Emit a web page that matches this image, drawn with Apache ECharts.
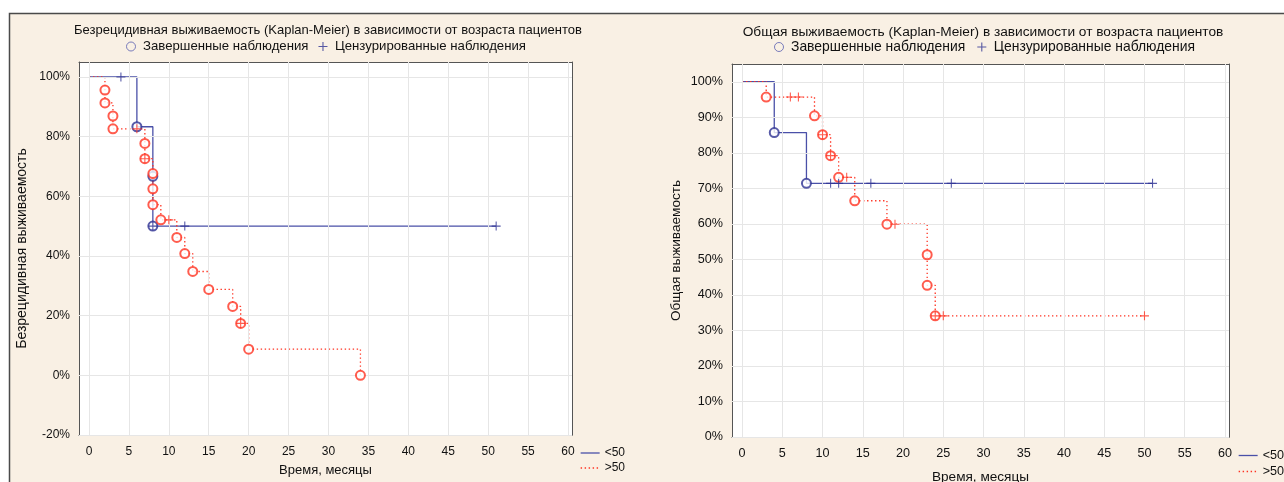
<!DOCTYPE html>
<html><head><meta charset="utf-8">
<script src="https://cdn.jsdelivr.net/npm/echarts@6/dist/echarts.min.js"></script>
<style>html,body{margin:0;padding:0;background:#fff}#c{width:1284px;height:482px}</style>
</head><body><div id="c"></div>
<script>
// ---------- DATA ----------
const xTicks = [0,5,10,15,20,25,30,35,40,45,50,55,60];
const yTicksRFS = [-20,0,20,40,60,80,100];
const yTicksOS = [0,10,20,30,40,50,60,70,80,90,100];

// RFS (left) – <50
const rfsYoungStepT = [0,6,8,51];
const rfsYoungStepS = [100,83.3,50,50];
const rfsYoungEventT = [6,8,8];
const rfsYoungEventS = [83.3,66.7,50];
const rfsYoungCensT = [4,8,12,51];
const rfsYoungCensS = [100,50,50,50];
// RFS (left) – >50
const rfsOldStepT = [0,2,3,7,8,9,11,12,13,15,18,19,20,34];
const rfsOldStepS = [100,91.3,82.6,72.6,57.2,52.1,46.2,40.8,34.8,28.8,23.1,17.4,8.75,0];
const rfsOldEventT = [2,2,3,3,7,7,8,8,8,9,11,12,13,15,18,19,20,34];
const rfsOldEventS = [95.6,91.3,86.9,82.6,77.7,72.6,67.6,62.5,57.2,52.1,46.2,40.8,34.8,28.8,23.1,17.4,8.75,0];
const rfsOldCensT = [6,7,10,19];
const rfsOldCensS = [82.6,72.6,52.1,17.4];

// OS (right) – <50
const osYoungStepT = [0,4,8,51];
const osYoungStepS = [100,85.7,71.4,71.4];
const osYoungEventT = [4,8];
const osYoungEventS = [85.7,71.4];
const osYoungCensT = [11,12,16,26,51];
const osYoungCensS = [71.4,71.4,71.4,71.4,71.4];
// OS (right) – >50
const osOldStepT = [0,3,9,10,11,12,14,18,23,24,50];
const osOldStepS = [100,95.7,90.4,85.1,79.2,73.1,66.5,59.9,42.7,34.1,34.1];
const osOldEventT = [3,9,10,11,12,14,18,23,23,24];
const osOldEventS = [95.7,90.4,85.1,79.2,73.1,66.5,59.9,51.3,42.7,34.1];
const osOldCensT = [6,7,10,11,13,19,24,25,50];
const osOldCensS = [95.7,95.7,85.1,79.2,73.1,59.9,34.1,34.1,34.1];

const titles = ['Безрецидивная выживаемость (Kaplan-Meier) в зависимости от возраста пациентов',
                'Общая выживаемость (Kaplan-Meier) в зависимости от возраста пациентов'];
const yNames = ['Безрецидивная выживаемость','Общая выживаемость'];
const xName = 'Время, месяцы';
const nameEvent = 'Завершенные наблюдения';
const nameCens = 'Цензурированные наблюдения';
const groupNames = ['<50','>50'];

// ---------- STYLE ----------
const FONT = '"Liberation Sans", Arial, sans-serif';
const BLUE_LINE = '#4a50a8';
const BLUE_MARK = '#2d3192';
const RED = '#ff3322';
const AX = '#555';
const PLUS = 'path://M4.4,0H5.6V4.4H10V5.6H5.6V10H4.4V5.6H0V4.4H4.4Z';
const zip = (a,b) => a.map((v,i)=>[v,b[i]]);

const grids = [
  {left:79, top:62, width:493, height:373},
  {left:732, top:64, width:497, height:373}
];
const L = [ // per-panel text layout
  {titleX:323, titleTop:19, titleSize:13, legLeft:126, legGap:10, legSize:13.2,
   labSize:12, xMargin:11, xNameGap:29, xNameSize:13, yNameGap:50, yNameSize:14, yMargin:9,
   botLeft:580, botTop:447},
  {titleX:978, titleTop:20, titleSize:13.7, legLeft:774, legGap:12, legSize:13.9,
   labSize:12.6, xMargin:10, xNameGap:33, xNameSize:13.6, yNameGap:49, yNameSize:13.6, yMargin:9,
   botLeft:1238, botTop:449}
];
const yRanges = [[-20,105],[0,105]];
const yTicksArr = [yTicksRFS, yTicksOS];
const sets = [
  {yStep:[rfsYoungStepT,rfsYoungStepS], oStep:[rfsOldStepT,rfsOldStepS],
   yEv:[rfsYoungEventT,rfsYoungEventS], oEv:[rfsOldEventT,rfsOldEventS],
   yC:[rfsYoungCensT,rfsYoungCensS], oC:[rfsOldCensT,rfsOldCensS]},
  {yStep:[osYoungStepT,osYoungStepS], oStep:[osOldStepT,osOldStepS],
   yEv:[osYoungEventT,osYoungEventS], oEv:[osOldEventT,osOldEventS],
   yC:[osYoungCensT,osYoungCensS], oC:[osOldCensT,osOldCensS]}
];

const xAxis = [], yAxis = [], series = [], title = [], legend = [];
grids.forEach((g, gi) => {
  const l = L[gi];
  title.push({text: titles[gi], left: l.titleX, top: l.titleTop, textAlign: 'center',
    textStyle:{fontFamily:FONT, fontSize:l.titleSize, fontWeight:'normal', color:'#111'}});
  const tick = {show:true, inside:true, length:4, customValues:xTicks, lineStyle:{color:'#333'}};
  xAxis.push({type:'value', gridIndex:gi, min:-1.25, max:60.5, position:'bottom',
    axisLine:{show:true, onZero:false, lineStyle:{color:AX, width:1}},
    axisTick:tick,
    axisLabel:{customValues:xTicks, margin:l.xMargin, fontFamily:FONT, fontSize:l.labSize, color:'#111'},
    splitLine:{show:false},
    name:xName, nameLocation:'middle', nameGap:l.xNameGap,
    nameTextStyle:{fontFamily:FONT, fontSize:l.xNameSize, color:'#111'}});
  xAxis.push({type:'value', gridIndex:gi, min:-1.25, max:60.5, position:'top',
    axisLine:{show:true, onZero:false, lineStyle:{color:AX, width:1}},
    axisTick:tick, axisLabel:{show:false}, splitLine:{show:false}});
  const yt = yTicksArr[gi];
  const ytick = {show:true, inside:true, length:4, customValues:yt, lineStyle:{color:'#333'}};
  yAxis.push({type:'value', gridIndex:gi, min:yRanges[gi][0], max:yRanges[gi][1], position:'left',
    axisLine:{show:true, onZero:false, lineStyle:{color:AX, width:1}},
    axisTick:ytick,
    axisLabel:{customValues:yt, formatter:'{value}%', margin:l.yMargin, fontFamily:FONT, fontSize:l.labSize, color:'#111'},
    splitLine:{show:false},
    name:yNames[gi], nameLocation:'middle', nameGap:l.yNameGap,
    nameTextStyle:{fontFamily:FONT, fontSize:l.yNameSize, color:'#111'}});
  yAxis.push({type:'value', gridIndex:gi, min:yRanges[gi][0], max:yRanges[gi][1], position:'right',
    axisLine:{show:true, onZero:false, lineStyle:{color:AX, width:1}},
    axisTick:ytick, axisLabel:{show:false}, splitLine:{show:false}});

  const xi = gi*2, yi = gi*2;
  const s = sets[gi];
  series.push({type:'line', name:'grid', xAxisIndex:xi, yAxisIndex:yi, data:[], silent:true, z:1,
    markLine:{silent:true, symbol:'none', animation:false, label:{show:false},
      lineStyle:{color:'#e6e6e6', type:'solid', width:1},
      data: xTicks.map(v=>({xAxis:v})).concat(yt.map(v=>({yAxis:v})))}});
  series.push({type:'line', name:groupNames[0], xAxisIndex:xi, yAxisIndex:yi, step:'end', symbol:'none',
    data:zip(s.yStep[0], s.yStep[1]), lineStyle:{color:BLUE_LINE, width:1.3}, itemStyle:{color:BLUE_LINE}, z:3});
  series.push({type:'line', name:groupNames[1], xAxisIndex:xi, yAxisIndex:yi, step:'end', symbol:'none',
    data:zip(s.oStep[0], s.oStep[1]), lineStyle:{color:RED, width:1.3, type:[1.4,2.6]}, itemStyle:{color:RED}, z:4});
  series.push({type:'scatter', name:nameEvent, xAxisIndex:xi, yAxisIndex:yi, symbol:'emptyCircle', symbolSize:9,
    data:zip(s.yEv[0], s.yEv[1]), itemStyle:{color:BLUE_MARK, borderWidth:1.1}, z:5});
  series.push({type:'scatter', name:nameEvent, xAxisIndex:xi, yAxisIndex:yi, symbol:'emptyCircle', symbolSize:9,
    data:zip(s.oEv[0], s.oEv[1]), itemStyle:{color:RED, borderWidth:1.1}, z:5});
  series.push({type:'scatter', name:nameCens, xAxisIndex:xi, yAxisIndex:yi, symbol:PLUS, symbolSize:9,
    data:zip(s.yC[0], s.yC[1]), itemStyle:{color:BLUE_MARK}, z:6});
  series.push({type:'scatter', name:nameCens, xAxisIndex:xi, yAxisIndex:yi, symbol:PLUS, symbolSize:9,
    data:zip(s.oC[0], s.oC[1]), itemStyle:{color:RED}, z:6});

  legend.push({left:l.legLeft, top:40, padding:0, itemWidth:14, itemHeight:9, itemGap:l.legGap, selectedMode:false,
    textStyle:{fontFamily:FONT, fontSize:l.legSize, color:'#111'},
    data:[{name:nameEvent, icon:'circle', itemStyle:{color:'transparent', borderColor:'#5a5fb0', borderWidth:1}},
          {name:nameCens, icon:PLUS, itemStyle:{color:BLUE_MARK}}]});
  legend.push({left:l.botLeft, top:l.botTop, padding:0, orient:'vertical', itemWidth:19, itemHeight:8, itemGap:3,
    selectedMode:false, textStyle:{fontFamily:FONT, fontSize:l.labSize, color:'#111'},
    data:[{name:groupNames[0], itemStyle:{opacity:0}, lineStyle:{color:BLUE_LINE, width:1.3}},
          {name:groupNames[1], itemStyle:{opacity:0}, lineStyle:{color:RED, width:1.3, type:[1.4,2.6]}}]});
});

const chart = echarts.init(document.getElementById('c'), null, {renderer:'canvas'});
chart.setOption({
  backgroundColor:'#ffffff',
  animation:false,
  graphic:[{type:'rect', z:-100, silent:true,
    shape:{x:9.5, y:13.5, width:1300, height:500},
    style:{fill:'#f9f0e4', stroke:'#4a4a4a', lineWidth:1.5}}],
  title, legend,
  grid: grids.map(g=>Object.assign({show:true, backgroundColor:'#ffffff', borderWidth:0,
    containLabel:false, outerBoundsMode:'none'}, g)),
  xAxis, yAxis, series
});
</script></body></html>
